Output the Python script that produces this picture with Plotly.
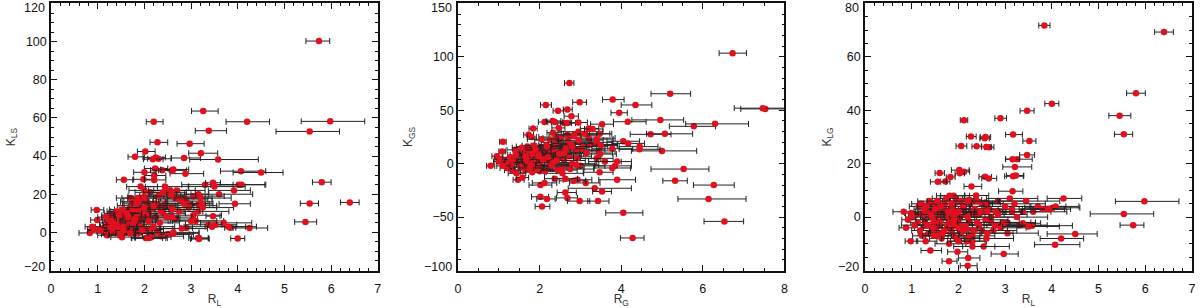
import plotly.graph_objects as go

# objects shared by the left and right panels (both use R_L)
RL = [5.74, 3.26, 2.20, 4.20, 5.98, 3.38, 5.54, 2.28, 2.97, 2.02,
      3.21, 1.80, 2.85, 2.24, 2.30, 2.18, 3.58, 2.23, 2.38, 2.62,
      2.58, 4.07, 4.50, 2.00, 2.88, 2.21, 2.21, 1.56, 1.98, 5.80,
      5.54, 6.40, 5.45, 4.25, 4.00, 3.94, 3.84, 3.47, 3.52, 3.47,
      2.90, 2.12, 2.27, 2.58, 2.56, 2.06, 2.39, 2.60, 2.66, 3.17,
      3.16, 3.23, 1.60, 2.12, 2.03, 1.83, 1.72, 2.57, 2.65, 3.17,
      3.16,
      0.83, 0.88, 0.92, 0.98, 0.99, 1.02, 1.06, 1.10, 1.13, 1.15,
      1.18, 1.20, 1.22, 1.25, 1.27, 1.28, 1.30, 1.32, 1.34, 1.36,
      1.38, 1.40, 1.42, 1.44, 1.45, 1.47, 1.48, 1.50, 1.52, 1.53,
      1.55, 1.57, 1.58, 1.60, 1.62, 1.64, 1.66, 1.68, 1.70, 1.72,
      1.74, 1.76, 1.78, 1.80, 1.81, 1.83, 1.85, 1.86, 1.88, 1.90,
      1.92, 1.94, 1.96, 1.98, 2.00, 2.03, 2.05, 2.07, 2.09, 2.12,
      2.15, 2.18, 2.20, 2.24, 2.27, 2.30, 2.33, 2.36, 2.40, 2.44,
      2.47, 2.50, 2.54, 2.58, 2.62, 2.66, 2.70, 2.75, 2.80, 2.85,
      2.90, 2.95, 3.00, 3.05, 3.10, 3.15, 3.20, 3.30, 3.38, 3.45,
      3.50, 3.60, 3.70, 3.80, 3.92, 4.02, 4.08, 2.10, 1.50, 1.90,
      1.22, 1.28, 1.32, 1.36, 1.40, 1.43, 1.46, 1.48, 1.50, 1.52,
      1.55, 1.58, 1.60, 1.63, 1.66, 1.70, 1.72, 1.76, 1.80, 1.82,
      1.85, 1.87, 1.88, 1.90, 1.92, 1.95, 2.00, 2.05, 2.10, 2.15,
      2.20, 2.25, 2.30, 2.35, 2.40, 2.45, 2.50, 2.55, 2.60, 2.62,
      2.70, 2.78, 2.85, 2.95, 3.05, 3.15, 3.25, 2.00, 1.70, 1.45]
RL_lo = [.28, .25, .16, .45, .62, .29, .72, .16, .27, .17,
         .26, .15, .27, .24, .23, .20, .61, .23, .25, .27,
         .28, .44, .60, .23, .33, .21, .21, .16, .21, .20,
         .20, .20, .23, .35, .15, .34, .12, .15, .14, .16,
         .12, .08, .10, .11, .10, .11, .10, .10, .10, .16,
         .15, .20, .10, .10, .10, .09, .10, .13, .15, .18,
         .30,
         .23, .15, .13, .12, .14, .15, .28, .17, .15, .20,
         .18, .20, .20, .17, .22, .19, .20, .20, .22, .20,
         .25, .20, .22, .25, .22, .23, .25, .25, .24, .28,
         .22, .25, .25, .30, .27, .26, .30, .28, .32, .25,
         .30, .27, .30, .30, .28, .30, .33, .30, .30, .33,
         .30, .33, .32, .35, .35, .30, .30, .35, .35, .32,
         .35, .35, .37, .40, .32, .40, .35, .40, .40, .42,
         .45, .38, .45, .40, .45, .40, .50, .42, .45, .50,
         .45, .50, .45, .50, .50, .20, .55, .50, .50, .60,
         .55, .60, .50, .50, .55, .60, .55, .30, .25, .28,
         .18, .20, .20, .22, .22, .24, .25, .22, .26, .24,
         .25, .26, .28, .28, .30, .28, .30, .30, .32, .30,
         .33, .30, .32, .35, .30, .33, .35, .36, .36, .38,
         .38, .40, .40, .42, .42, .44, .45, .45, .48, .45,
         .50, .48, .52, .50, .55, .55, .55, .33, .30, .25]
RL_hi = [.23, .32, .20, .48, .74, .38, .64, .22, .31, .21,
         .36, .17, .35, .21, .27, .22, .86, .27, .27, .33,
         .32, .53, .47, .25, .39, .25, .25, .19, .22, .20,
         .19, .20, .24, .39, .15, .33, .12, .15, .14, .16,
         .13, .08, .11, .11, .10, .12, .10, .10, .10, .20,
         .15, .17, .10, .12, .10, .10, .10, .14, .17, .22,
         .22,
         .25, .18, .17, .15, .16, .20, .32, .20, .20, .22,
         .22, .24, .22, .20, .26, .22, .24, .24, .26, .24,
         .28, .24, .26, .30, .26, .28, .30, .30, .28, .32,
         .26, .30, .30, .35, .32, .30, .36, .32, .38, .30,
         .35, .32, .36, .36, .33, .36, .40, .36, .36, .40,
         .36, .40, .38, .42, .42, .36, .36, .42, .42, .38,
         .42, .42, .45, .48, .38, .48, .42, .48, .48, .50,
         .55, .46, .55, .48, .55, .48, .60, .50, .55, .60,
         .55, .60, .55, .60, .60, .22, .66, .60, .60, .72,
         .66, .72, .60, .60, .35, .58, .50, .36, .30, .34,
         .22, .24, .24, .26, .26, .28, .30, .26, .30, .28,
         .30, .32, .33, .33, .36, .34, .36, .36, .38, .36,
         .40, .36, .38, .42, .36, .40, .42, .43, .43, .46,
         .46, .48, .48, .50, .50, .53, .55, .55, .58, .55,
         .60, .58, .62, .60, .66, .66, .66, .40, .36, .30]
KLS = [100.3, 63.6, 58.0, 58.0, 58.2, 53.3, 52.9, 47.2, 46.5, 42.4,
       41.5, 39.6, 39.0, 39.3, 38.6, 38.4, 38.2, 33.5, 32.6, 33.0,
       32.5, 32.1, 31.4, 31.5, 30.8, 29.8, 27.5, 27.6, 27.8, 26.3,
       15.2, 15.7, 5.5, 2.3, -3.2, 15.0, 2.4, 8.5, 4.0, 26.0,
       2.3, 12.0, 14.0, 20.0, 22.0, 16.0, 14.0, 8.0, 7.0, -3.0,
       14.6, 15.0, 10.0, 13.0, 9.0, 15.0, 10.0, 12.0, 18.0, -3.5,
       20.0,
       -0.3, 3.0, 1.5, 11.8, 6.5, 1.5, 1.0, 2.0, 0.5, 3.0,
       8.0, -1.5, 1.0, -1.0, 2.5, 9.0, 6.0, 0.5, 4.0, 7.0,
       -0.5, 11.0, 3.0, 8.0, 1.5, 10.0, -1.5, 5.0, -2.5, 12.0,
       1.0, 4.5, 7.5, 0.0, 10.0, 2.0, 12.0, 5.0, -0.5, 8.0,
       2.0, 16.0, 6.0, -0.5, 10.0, 15.0, 18.0, -0.5, 5.5, 13.0,
       24.0, 3.0, 18.0, 10.0, 19.0, -3.0, 1.5, -3.0, 6.0, 21.0,
       -2.5, 12.5, 3.0, 15.0, 0.0, 19.0, 5.0, -2.0, 10.0, 24.0,
       8.0, -1.0, 22.0, 13.0, 0.0, 7.0, 18.0, 11.0, 2.0, 18.0,
       16.0, 14.0, 6.0, 9.0, 6.0, -3.0, 18.0, 25.0, 4.0, 3.0,
       24.0, 20.0, 5.0, 3.0, 22.0, 25.0, 25.0, -3.0, -1.0, 0.0,
       5.0, 8.0, 2.0, 10.0, 6.0, 4.0, 9.0, 1.0, 7.0, 11.0,
       3.0, 0.0, 6.0, 10.0, 8.0, 3.0, 14.0, 12.0, 7.0, 4.0,
       9.0, 12.0, 16.0, 2.0, 7.0, 1.0, 13.0, 16.0, 9.0, 2.0,
       14.0, 8.0, 19.0, 11.0, 21.0, 15.0, -1.0, 20.0, 12.0, -0.5,
       22.0, 17.0, 15.0, 13.0, 19.0, 11.0, 13.0, 22.0, 18.0, 0.0]
KLG = [-3.0, 21.7, -18.2, -8.0, 5.9, -2.3, 1.2, 11.5, -13.8, 17.6,
       18.8, -16.5, 2.2, -8.0, -9.0, -4.5, -3.2, 6.5, 8.1, 2.2,
       5.5, -10.3, -6.3, -9.0, -3.0, -15.3, -7.5, 13.2, -13.0, 46.4,
       31.0, 69.3, 38.0, 7.0, 42.5, 3.0, 71.8, 39.8, 28.5, 23.3,
       37.0, 36.3, 30.2, 30.0, 29.5, 26.6, 26.5, 26.3, 26.2, 30.9,
       21.7, 15.6, 16.5, 17.0, 16.4, 15.0, 13.3, 15.1, 14.5, 15.3,
       9.7,
       2.0, -4.0, -1.0, -9.0, 1.5, 0.0, -3.0, 1.0, -2.0, 4.0,
       -5.0, 5.0, -7.0, 1.0, 3.0, -1.0, -9.0, 2.0, -3.0, 5.0,
       6.0, -12.5, 1.0, -5.0, 2.0, -2.0, -7.0, 3.0, 0.0, -4.0,
       6.0, -6.0, 1.0, -2.0, 4.0, -8.0, 0.0, 3.0, -5.0, 1.5,
       7.0, -3.0, 2.0, -10.0, 8.0, -1.0, 5.0, -6.0, 3.0, -3.0,
       1.0, 7.0, -8.0, 2.0, -4.0, 0.0, 6.0, -3.0, -5.0, 3.0,
       1.0, -9.0, 6.0, -2.0, 2.0, -11.0, -5.0, 1.0, 6.0, -3.0,
       2.0, 5.0, -11.0, -1.0, -6.0, 3.0, -2.0, -5.0, 2.0, 6.0,
       -4.0, -3.0, 4.0, -2.0, 7.0, 2.0, 5.0, -3.0, 2.0, 6.0,
       -3.5, 2.0, 4.0, 3.0, 3.0, 3.5, 4.0, -3.0, 3.0, 8.0,
       1.0, -3.0, 4.0, -6.0, 2.0, 0.0, -4.0, 5.0, -1.0, 3.0,
       -7.0, 1.0, -3.0, 2.0, -6.0, 4.0, 0.0, -4.0, 2.0, -2.0,
       -5.0, 3.0, 1.0, -7.0, 5.0, -1.0, 2.0, -6.0, 4.0, -3.0,
       0.0, 5.0, -7.0, 3.0, -2.0, 1.0, -5.0, 2.0, -8.0, 4.0,
       0.0, -3.0, 1.0, -2.0, -6.0, 3.0, 0.0, -2.0, 5.0, -4.0]

# middle panel
RG = [6.73, 2.73, 5.20, 3.79, 2.98, 2.15, 4.35, 2.45, 2.68, 3.95,
      2.78, 7.47, 7.53, 4.16, 4.96, 6.30, 5.78, 2.12, 2.32, 2.37,
      2.60, 2.68, 2.95, 3.53, 1.84, 2.47, 3.20, 3.30, 2.33, 3.47,
      4.72, 5.07, 1.73, 1.80, 1.10, 1.08, 4.05, 4.17, 4.45, 4.45,
      5.00, 5.53, 5.32, 6.27, 6.14, 4.05, 6.53, 4.28, 3.90, 3.35,
      3.53, 2.63, 2.02, 2.18, 2.68, 2.98, 3.43, 2.06, 2.02, 2.12,
      3.13, 2.93, 2.83, 2.63, 2.37, 1.47, 1.58, 0.80, 3.47, 3.40,
      3.60, 3.90, 3.85, 3.78, 3.78, 3.48, 3.45, 3.50, 3.40, 3.40,
      0.95, 1.00, 1.04, 1.10, 1.15, 1.20, 1.24, 1.28, 1.32, 1.36,
      1.40, 1.43, 1.46, 1.50, 1.53, 1.56, 1.59, 1.62, 1.65, 1.68,
      1.70, 1.72, 1.75, 1.77, 1.80, 1.82, 1.85, 1.87, 1.90, 1.92,
      1.95, 1.97, 2.00, 2.03, 2.05, 2.08, 2.10, 2.13, 2.16, 2.20,
      2.23, 2.26, 2.30, 2.33, 2.36, 2.40, 2.44, 2.48, 2.52, 2.56,
      2.60, 2.64, 2.68, 2.72, 2.76, 2.80, 2.84, 2.88, 2.92, 2.96,
      3.00, 3.05, 3.10, 3.15, 3.20, 3.25, 2.85, 2.90, 2.95, 3.00,
      1.30, 1.42, 1.50, 1.55, 1.60, 1.66, 1.70, 1.74, 1.78, 1.82,
      1.86, 1.90, 1.94, 1.98, 2.02, 2.06, 2.12, 2.18, 2.24, 2.30,
      2.36, 2.42, 2.46, 2.50, 2.55, 2.60, 2.66, 2.70, 2.75, 2.80,
      1.60, 1.70, 1.80, 1.90, 2.00, 2.10, 2.20, 2.30, 2.40, 2.50]
RG_lo = [.33, .12, .47, .25, .17, .13, .35, .12, .10, .20,
         .18, .70, .60, .35, .70, .72, .60, .15, .16, .17,
         .16, .17, .20, .28, .10, .17, .20, .20, .15, .30,
         .50, .45, .12, .10, .08, .08, .40, .40, .50, .50,
         .75, .80, .30, .50, .75, .43, .50, .30, .45, .65,
         .23, .20, .22, .25, .27, .30, .25, .17, .28, .30,
         .40, .35, .35, .30, .25, .12, .15, .10, .40, .40,
         .40, .50, .50, .45, .50, .40, .40, .40, .40, .40,
         .12, .13, .14, .15, .15, .17, .17, .18, .18, .20,
         .20, .20, .22, .22, .23, .23, .25, .25, .25, .25,
         .27, .27, .28, .28, .28, .30, .30, .30, .30, .32,
         .32, .32, .33, .33, .35, .35, .35, .35, .37, .37,
         .38, .38, .40, .40, .40, .42, .42, .42, .44, .44,
         .45, .45, .45, .47, .47, .48, .48, .50, .50, .50,
         .50, .52, .52, .52, .55, .55, .45, .45, .50, .50,
         .18, .20, .22, .24, .25, .26, .27, .28, .28, .30,
         .30, .32, .32, .33, .35, .35, .36, .38, .38, .40,
         .40, .42, .42, .44, .45, .45, .46, .48, .48, .50,
         .25, .27, .30, .32, .35, .36, .38, .40, .42, .44]
RG_hi = [.34, .11, .50, .28, .17, .14, .40, .14, .12, .20,
         .17, .60, .50, .45, .57, .82, .53, .17, .20, .20,
         .18, .20, .22, .28, .10, .15, .25, .25, .20, .30,
         .50, .68, .12, .12, .08, .08, .40, .40, .45, .50,
         .85, .62, .30, .50, .92, .48, .47, .28, .45, .90,
         .23, .27, .20, .20, .25, .25, .27, .19, .28, .30,
         .35, .35, .30, .30, .25, .15, .15, .10, .33, .40,
         .40, .35, .40, .45, .50, .40, .40, .40, .40, .40,
         .14, .15, .16, .17, .17, .19, .20, .20, .21, .22,
         .23, .23, .25, .25, .26, .26, .28, .28, .29, .30,
         .30, .31, .32, .32, .33, .34, .35, .35, .35, .36,
         .37, .37, .38, .38, .40, .40, .40, .41, .42, .43,
         .44, .45, .46, .46, .47, .48, .48, .50, .50, .52,
         .52, .52, .54, .55, .55, .56, .56, .58, .58, .60,
         .60, .62, .62, .64, .65, .66, .55, .55, .60, .60,
         .22, .24, .26, .28, .30, .31, .32, .33, .34, .35,
         .36, .38, .38, .40, .42, .42, .43, .45, .46, .48,
         .48, .50, .50, .52, .54, .54, .55, .57, .58, .60,
         .30, .32, .36, .38, .42, .44, .46, .48, .50, .52]
KGS = [103.5, 75.5, 65.5, 60.0, 57.5, 55.0, 55.0, 49.5, 50.8, 47.7,
       44.5, 52.0, 51.3, 39.3, 41.0, 37.3, 35.0, 39.0, 40.0, 39.0,
       38.0, 38.0, 38.6, 37.0, 33.0, 33.5, 33.0, 32.5, 29.0, 28.0,
       27.5, 28.0, 27.0, 25.0, 20.5, 11.5, 21.0, 19.0, 16.0, 13.5,
       12.0, -5.0, -16.0, -20.0, -33.0, -46.0, -54.0, -69.5, -15.0, -23.0,
       -26.0, -27.0, -31.0, -33.0, -32.0, -35.0, -35.0, -40.0, -20.0, -18.0,
       -18.0, -15.0, -16.0, -14.0, -14.0, -15.0, -13.0, -2.0, -8.0, 5.0,
       2.0, 2.0, -2.0, -4.0, 14.0, 9.0, 12.0, 17.0, 20.0, 23.0,
       7.0, 2.0, 4.0, -2.0, 3.0, -4.0, 1.0, 6.0, -6.0, 2.0,
       13.0, -9.0, 5.0, 8.0, -3.0, 15.0, 0.0, 10.0, -6.0, 4.0,
       16.0, 1.0, 9.0, -4.0, 13.0, -8.0, 5.0, 17.0, 2.0, 11.0,
       -5.0, 7.0, 14.0, -2.0, 23.0, 4.0, 10.0, -7.0, 17.0, 6.0,
       -3.0, 22.0, 12.0, 1.0, 6.0, 18.0, -6.0, 9.0, 24.0, -9.0,
       3.0, 14.0, 27.0, 7.0, 19.0, 0.0, 26.0, 12.0, 5.0, 22.0,
       -2.0, 16.0, 28.0, 10.0, 24.0, 18.0, 27.0, -1.0, 30.0, 13.0,
       -1.0, 8.0, 2.0, -3.0, 12.0, 7.0, 3.0, 13.0, -1.0, 9.0,
       1.0, 15.0, -2.0, 8.0, -6.0, 12.0, 4.0, 16.0, -1.0, 8.0,
       14.0, 3.0, 20.0, 11.0, -4.0, 10.0, 15.0, 21.0, -5.0, 16.0,
       4.0, -1.0, 9.0, 13.0, -7.0, 6.0, 10.0, -2.0, 25.0, 8.0]

# tick labels of the three y axes, the outer two are placed by hand below
Y1_TICKS = [-20, 0, 20, 40, 60, 80, 100, 120]
Y2_TICKS = [-100, -50, 0, 50, 100, 150]
Y3_TICKS = [-20, 0, 20, 40, 60, 80]

RED = "#e2101e"
BAR = "#222222"
AXIS = "#111111"
FONT = "Liberation Sans"
TOP = 3.5
BOTTOM = 272.3
GROUPS = 4


def add_panel(fig, x, y, lo, hi, n):
    # several traces per panel so later bars run over earlier markers, as in the original
    for g in range(GROUPS):
        fig.add_trace(go.Scatter(
            x=x[g::GROUPS], y=y[g::GROUPS], mode="markers", xaxis="x%d" % n, yaxis="y%d" % n,
            marker=dict(color=RED, size=6.5, line=dict(width=0)),
            error_x=dict(type="data", symmetric=False, array=hi[g::GROUPS],
                         arrayminus=lo[g::GROUPS], color=BAR, thickness=1, width=3),
            showlegend=False, hoverinfo="skip"))


def x_axis(left, right, rng, major, minor, title, n):
    return dict(domain=[left / 1200, right / 1200], range=rng, dtick=major, tick0=0,
                anchor="y%d" % n, showgrid=False, zeroline=False, showline=True,
                linecolor=AXIS, linewidth=1.5, mirror="allticks", ticks="inside",
                ticklen=6, tickwidth=1, tickcolor=AXIS, tickfont=dict(size=12.5),
                ticklabelstandoff=6,
                minor=dict(dtick=minor, tick0=0, ticks="inside", ticklen=3,
                           tickwidth=1, tickcolor=AXIS, showgrid=False),
                title=dict(text=title, standoff=3, font=dict(size=12, color="#333333")))


def y_axis(rng, ticks, minor, title, standoff, n):
    # the end labels are blanked here and drawn as annotations, nudged inside as in the original
    labels = [""] + [str(t).replace("-", "\u2212") for t in ticks[1:-1]] + [""]
    return dict(domain=[(308 - BOTTOM) / 308, (308 - TOP) / 308], range=rng,
                tickvals=ticks, ticktext=labels, ticklabeloverflow="allow",
                anchor="x%d" % n, showgrid=False, zeroline=False, showline=True,
                linecolor=AXIS, linewidth=1.5, mirror="allticks", ticks="inside",
                ticklen=6, tickwidth=1, tickcolor=AXIS, tickfont=dict(size=12.5),
                minor=dict(dtick=minor, tick0=0, ticks="inside", ticklen=3,
                           tickwidth=1, tickcolor=AXIS, showgrid=False),
                title=dict(text=title, standoff=standoff, font=dict(size=12, color="#333333")))


def end_label(left, value, px_y):
    return dict(x=(left - 4) / 1200, y=1 - px_y / 308, xref="paper", yref="paper",
                text=str(value).replace("-", "\u2212"), showarrow=False, xanchor="right",
                yanchor="middle", font=dict(size=12.5, family=FONT, color="#111111"))


fig = go.Figure()
add_panel(fig, RL, KLS, RL_lo, RL_hi, 1)
add_panel(fig, RG, KGS, RG_lo, RG_hi, 2)
add_panel(fig, RL, KLG, RL_lo, RL_hi, 3)

fig.update_layout(
    width=1200, height=308, autosize=False,
    margin=dict(l=0, r=0, t=0, b=0),
    paper_bgcolor="white", plot_bgcolor="white",
    font=dict(family=FONT, size=13, color="#111111"),
    xaxis1=x_axis(48.3, 377, [0, 7], 1, 0.2, "R<sub>L</sub>", 1),
    yaxis1=y_axis([-20, 120], Y1_TICKS, 5, "K<sub>LS</sub>", 8, 1),
    xaxis2=x_axis(457.7, 786, [0, 8], 2, 0.5, "R<sub>G</sub>", 2),
    yaxis2=y_axis([-100, 150], Y2_TICKS, 10, "K<sub>GS</sub>", 17, 2),
    xaxis3=x_axis(867, 1196, [0, 7], 1, 0.2, "R<sub>L</sub>", 3),
    yaxis3=y_axis([-20, 80], Y3_TICKS, 5, "K<sub>LG</sub>", 13, 3),
    annotations=[
        end_label(48.3, Y1_TICKS[-1], 8), end_label(48.3, Y1_TICKS[0], 269),
        end_label(457.7, Y2_TICKS[-1], 8), end_label(457.7, Y2_TICKS[0], 269),
        end_label(867, Y3_TICKS[-1], 8), end_label(867, Y3_TICKS[0], 269),
    ],
)

fig.write_html("out.html", config={"displayModeBar": False},
               post_script="document.body.style.margin='0';")
